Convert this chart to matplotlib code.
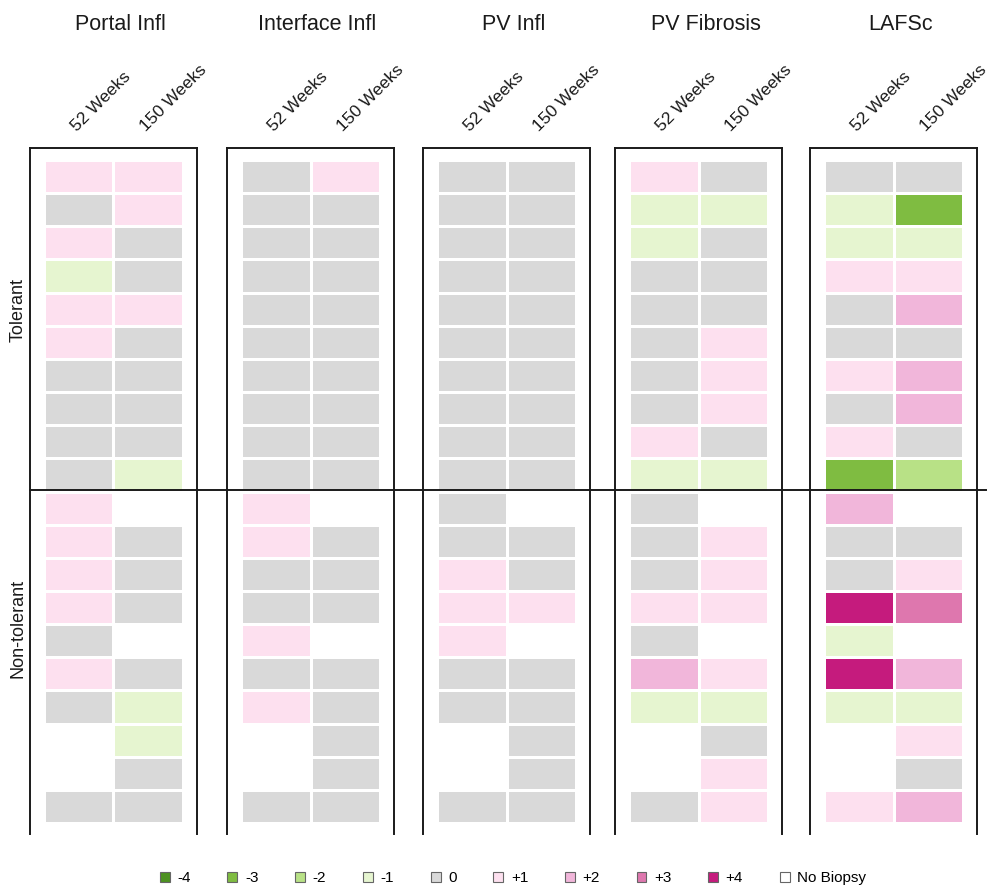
import numpy as np
import matplotlib
matplotlib.use("Agg")
import matplotlib.pyplot as plt
from matplotlib.colors import ListedColormap, BoundaryNorm
from matplotlib.patches import Patch
from matplotlib.lines import Line2D

plt.rcParams['font.family'] = ['Liberation Sans', 'DejaVu Sans']

NB = None  # no biopsy

measures = ["Portal Infl", "Interface Infl", "PV Infl", "PV Fibrosis", "LAFSc"]
timepoints = ["52 Weeks", "150 Weeks"]
groups = ["Tolerant", "Non-tolerant"]

# rows: 10 tolerant then 10 non-tolerant
portal_52 = [1, 0, 1, -1, 1, 1, 0, 0, 0, 0,
             1, 1, 1, 1, 0, 1, 0, NB, NB, 0]
portal_150 = [1, 1, 0, 0, 1, 0, 0, 0, 0, -1,
              NB, 0, 0, 0, NB, 0, -1, -1, 0, 0]
interface_52 = [0, 0, 0, 0, 0, 0, 0, 0, 0, 0,
                1, 1, 0, 0, 1, 0, 1, NB, NB, 0]
interface_150 = [1, 0, 0, 0, 0, 0, 0, 0, 0, 0,
                 NB, 0, 0, 0, NB, 0, 0, 0, 0, 0]
pv_infl_52 = [0, 0, 0, 0, 0, 0, 0, 0, 0, 0,
              0, 0, 1, 1, 1, 0, 0, NB, NB, 0]
pv_infl_150 = [0, 0, 0, 0, 0, 0, 0, 0, 0, 0,
               NB, 0, 0, 1, NB, 0, 0, 0, 0, 0]
pv_fib_52 = [1, -1, -1, 0, 0, 0, 0, 0, 1, -1,
             0, 0, 0, 1, 0, 2, -1, NB, NB, 0]
pv_fib_150 = [0, -1, 0, 0, 0, 1, 1, 1, 0, -1,
              NB, 1, 1, 1, NB, 1, -1, 0, 1, 1]
lafsc_52 = [0, -1, -1, 1, 0, 0, 1, 0, 1, -3,
            2, 0, 0, 4, -1, 4, -1, NB, NB, 1]
lafsc_150 = [0, -3, -1, 1, 2, 0, 2, 2, 0, -2,
             NB, 0, 1, 3, NB, 2, -1, 1, 0, 2]

panel_data = [(portal_52, portal_150), (interface_52, interface_150),
              (pv_infl_52, pv_infl_150), (pv_fib_52, pv_fib_150),
              (lafsc_52, lafsc_150)]

score_labels = ["-4", "-3", "-2", "-1", "0", "+1", "+2", "+3", "+4"]
score_colors = ['#4d9221', '#7fbc41', '#b8e186', '#e6f5d0', '#d9d9d9',
                '#fde0ef', '#f1b6da', '#de77ae', '#c51b7d']

cmap = ListedColormap(score_colors)
norm = BoundaryNorm(np.arange(-4.5, 5.5, 1), cmap.N)

W, H = 990, 890
fig = plt.figure(figsize=(W / 100, H / 100), dpi=100)

lefts = [30, 227, 423, 615, 810]
box_w = 167
top_px, bot_px = 148, 834
nrows = 20
cell_top, cell_bot = 160, 823
unit_y = (cell_bot - cell_top) / nrows
my_top = (cell_top - top_px) / unit_y
my_bot = (bot_px - cell_bot) / unit_y
mx = 14 / ((box_w - 28) / 2)

for i, (name, (w52, w150)) in enumerate(zip(measures, panel_data)):
    ax = fig.add_axes([lefts[i] / W, 1 - bot_px / H, box_w / W, (bot_px - top_px) / H])
    mat = np.array([w52, w150], dtype=float).T
    mat = np.ma.masked_invalid(mat)
    ax.pcolormesh(np.arange(3), np.arange(nrows + 1), mat, cmap=cmap, norm=norm,
                  edgecolors='white', linewidth=0.8)
    ax.set_xlim(-mx, 2 + mx)
    ax.set_ylim(nrows + my_bot, -my_top)
    ax.set_xticks([])
    ax.set_yticks([])
    for s in ['left', 'right', 'top']:
        ax.spines[s].set_color('#1a1a1a')
        ax.spines[s].set_linewidth(1.4)
    ax.spines['bottom'].set_visible(False)
    for j, tp in enumerate(timepoints):
        ax.text(j + 0.5, 1.02, tp, transform=ax.get_xaxis_transform(),
                rotation=45, rotation_mode='anchor', ha='left', va='bottom',
                fontsize=12.5, color='#1a1a1a')
    fig.text((lefts[i] + box_w / 2 + 7) / W, 1 - 25 / H, name,
             ha='center', va='center', fontsize=15.5, color='#1a1a1a')

# divider between groups
fig.add_artist(Line2D([30 / W, 986 / W], [1 - 490 / H, 1 - 490 / H],
                      color='#1a1a1a', linewidth=1.4))

fig.text(18 / W, 1 - 310 / H, groups[0], rotation=90, ha='center', va='center',
         fontsize=13, color='#1a1a1a')
fig.text(18 / W, 1 - 628 / H, groups[1], rotation=90, ha='center', va='center',
         fontsize=13, color='#1a1a1a')

handles = [Patch(facecolor=c, edgecolor='#666666', linewidth=0.8) for c in score_colors]
handles.append(Patch(facecolor='white', edgecolor='#666666', linewidth=0.8))
labels = score_labels + ["No Biopsy"]
fig.legend(handles, labels, loc='center', bbox_to_anchor=(513 / W, 1 - 878 / H),
           ncol=10, frameon=False, fontsize=11, handlelength=0.65, handleheight=0.65,
           handletextpad=0.5, columnspacing=2.4, borderpad=0.1)

fig.savefig("out.png", dpi=100, facecolor='white')
